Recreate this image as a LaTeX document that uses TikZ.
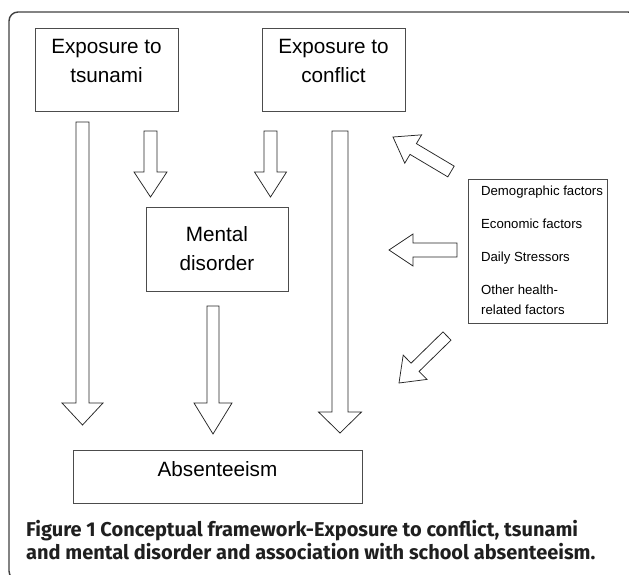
\documentclass[tikz,border=0pt]{standalone}
\usepackage{fontspec}
\setmainfont{Liberation Sans}
\newfontfamily\capfont{Fira Sans}
\usetikzlibrary{calc}
\tikzstyle{frame}=[draw=black!75, line width=1.4pt, rounded corners=9pt]
\tikzstyle{block}=[draw=black!70, line width=0.9pt, align=center, inner sep=0pt, font=\fontsize{20.7}{29}\selectfont]
\tikzstyle{topblock}=[block, minimum width=143pt, minimum height=83pt, text depth=18pt]
\tikzstyle{factors}=[draw=black!70, line width=0.9pt, inner sep=0pt, minimum width=139pt, minimum height=144pt, font=\fontsize{13.2}{20}\selectfont]
\tikzstyle{caption}=[align=left, inner sep=0pt, text=black!88, font=\capfont\bfseries\fontsize{20}{23}\selectfont]
\tikzset{blk/.style n args={3}{draw=black!85, fill=white, line width=0.75pt, line join=miter,
    to path={($(\tikztostart)!#1/2!90:(\tikztotarget)$)
        -- ($(\tikztotarget)!#3!(\tikztostart)!#1/2!90:(\tikztotarget)$)
        -- ($(\tikztotarget)!#3!(\tikztostart)!#2/2!90:(\tikztotarget)$)
        -- (\tikztotarget)
        -- ($(\tikztotarget)!#3!(\tikztostart)!#2/2!-90:(\tikztotarget)$)
        -- ($(\tikztotarget)!#3!(\tikztostart)!#1/2!-90:(\tikztotarget)$)
        -- ($(\tikztostart)!#1/2!-90:(\tikztotarget)$) -- cycle}}}
\begin{document}
\begin{tikzpicture}[x=1pt, y=-1pt]
    \useasboundingbox (0,0) rectangle (629,574);
    \draw [frame] (9,12) rectangle (637,580);
    % boxes
    \node [topblock] (tsunami) at (106.5,69.5) {Exposure to\\tsunami};
    \node [topblock] (conflict) at (333.5,69.5) {Exposure to\\conflict};
    \node [block, minimum width=142pt, minimum height=84pt] (mental) at (217,249) {Mental\\disorder};
    \node [block, minimum width=289pt, minimum height=53pt, text depth=15pt] (absent) at (217.5,476.5) {Absenteeism};
    \node [factors] (factors) at (537.5,251) {\begin{tabular}{@{\hspace{9pt}}l@{}}
        Demographic factors\\[13pt]
        Economic factors\\[13pt]
        Daily Stressors\\[13pt]
        Other health-\\
        related factors
    \end{tabular}};
    % arrow ends
    \coordinate (ts1) at (82.5,122);
    \coordinate (ab1) at (82.5,425);
    \coordinate (ts2) at (150.5,131);
    \coordinate (me1) at (150.5,197);
    \coordinate (co1) at (270.5,131);
    \coordinate (me2) at (270.5,197);
    \coordinate (co2) at (340,131);
    \coordinate (ab2) at (340,433);
    \coordinate (me3) at (213,306);
    \coordinate (ab3) at (213,434);
    \coordinate (fa1) at (451,171.5);
    \coordinate (co3) at (393,137);
    \coordinate (fa2) at (457,250);
    \coordinate (me4) at (389,250);
    \coordinate (fa3) at (447,336);
    \coordinate (ab4) at (399,383);
    % block arrows
    \draw [blk={13pt}{41pt}{22pt}] (ts1) to (ab1);
    \draw [blk={13pt}{33pt}{25pt}] (ts2) to (me1);
    \draw [blk={13pt}{32pt}{25pt}] (co1) to (me2);
    \draw [blk={16pt}{43pt}{21pt}] (co2) to (ab2);
    \draw [blk={12pt}{38pt}{31pt}] (me3) to (ab3);
    \draw [blk={12.5pt}{33pt}{23.5pt}] (fa1) to (co3);
    \draw [blk={14pt}{32pt}{24pt}] (fa2) to (me4);
    \draw [blk={11.5pt}{34pt}{22.5pt}] (fa3) to (ab4);
    % caption
    \node [caption, anchor=base west] (cap) at (26,559) {Figure 1 Conceptual framework-Exposure to conflict, tsunami\\and mental disorder and association with school absenteeism.};
\end{tikzpicture}
\end{document}
